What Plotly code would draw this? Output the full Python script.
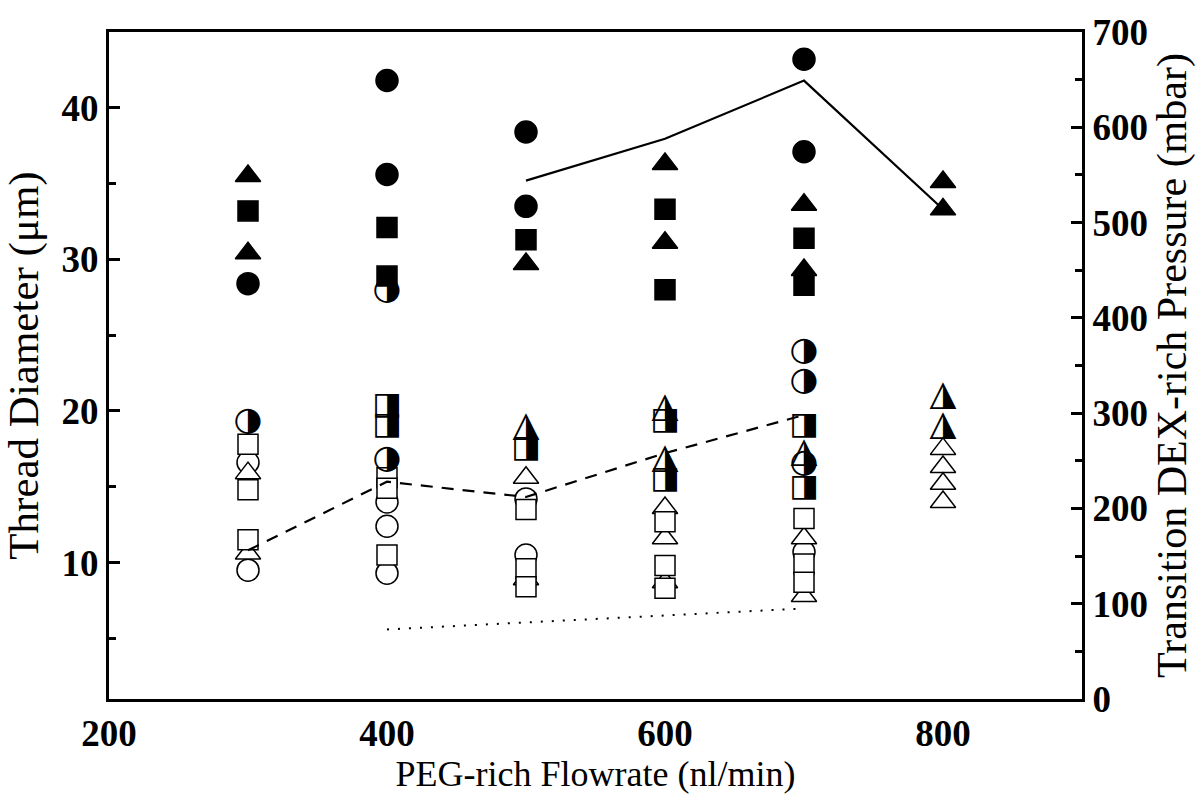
import plotly.graph_objects as go

# ---------------- data ----------------
flow_fc = [300, 400, 400, 500, 500, 700, 700]
dia_fc = [28.4, 41.8, 35.6, 38.4, 33.5, 43.2, 37.1]

flow_fs = [300, 400, 400, 500, 600, 600, 700, 700]
dia_fs = [33.2, 32.1, 28.9, 31.3, 33.3, 28.0, 31.4, 28.3]

flow_ft = [300, 300, 500, 600, 600, 700, 700, 800, 800]
dia_ft = [35.5, 30.4, 29.7, 36.3, 31.1, 33.6, 29.3, 35.1, 33.3]

flow_hc = [300, 400, 400, 700, 700, 700]
dia_hc = [19.3, 27.9, 16.8, 23.9, 21.9, 16.5]

flow_hs = [400, 400, 500, 600, 600, 700, 700]
dia_hs = [20.3, 19.0, 17.5, 19.3, 15.4, 19.0, 14.9]

flow_ht = [500, 600, 600, 700, 800, 800]
dia_ht = [18.9, 20.2, 16.8, 17.2, 21.0, 19.0]

flow_oc = [300, 300, 400, 400, 400, 500, 500, 700]
dia_oc = [16.6, 9.5, 14.0, 12.4, 9.3, 14.2, 10.5, 10.7]

flow_os = [300, 300, 300, 400, 400, 400, 500, 500, 500, 600, 600, 600, 700, 700, 700]
dia_os = [17.8, 14.8, 11.5, 15.6, 14.9, 10.5, 13.5, 9.6, 8.4, 12.7, 9.8, 8.3, 12.9, 9.9, 8.7]

flow_ot = [300, 300, 500, 500, 600, 600, 600, 700, 700, 800, 800, 800, 800]
dia_ot = [15.9, 10.6, 15.6, 8.9, 13.6, 11.6, 8.7, 11.6, 7.8, 17.5, 16.3, 15.2, 14.0]

# pressure lines (right axis, mbar)
flow_solid = [500, 600, 700, 800]
pres_solid = [544, 588, 649, 514]
flow_dash = [300, 400, 500, 600, 700]
pres_dash = [156, 228, 212, 258, 298]
flow_dot = [400, 700]
pres_dot = [73, 95]

x_ticks = [200, 400, 600, 800]
y_ticks = [10, 20, 30, 40]
y2_ticks = [0, 100, 200, 300, 400, 500, 600, 700]

# ---------------- figure ----------------
fig = go.Figure()
BLACK = "black"
WHITE = "white"

def mk(x, y, symbol, fill, size):
    fig.add_trace(go.Scatter(
        x=x, y=y, mode="markers", showlegend=False,
        marker=dict(symbol=symbol, size=size, color=fill,
                    line=dict(color=BLACK, width=1.5))))

# lines on right axis
fig.add_trace(go.Scatter(x=flow_solid, y=pres_solid, yaxis="y2", mode="lines",
                         line=dict(color=BLACK, width=2.2), showlegend=False))
fig.add_trace(go.Scatter(x=flow_dash, y=pres_dash, yaxis="y2", mode="lines",
                         line=dict(color=BLACK, width=2.2, dash="12px,9px"), showlegend=False))
fig.add_trace(go.Scatter(x=flow_dot, y=pres_dot, yaxis="y2", mode="lines",
                         line=dict(color=BLACK, width=2, dash="2px,9px"), showlegend=False))

# open markers
mk(flow_oc, dia_oc, "circle", WHITE, 22)
mk(flow_ot, dia_ot, "triangle-up", WHITE, 22)
mk(flow_os, dia_os, "square", WHITE, 20)

# half-filled markers as glyphs
def half(x, y, glyph, size):
    fig.add_trace(go.Scatter(
        x=x, y=y, mode="text", text=[glyph] * len(x), showlegend=False,
        textposition="middle center",
        textfont=dict(family="DejaVu Sans", size=size, color=BLACK)))

half(flow_hc, dia_hc, "\u25D1", 33)
half(flow_hs, dia_hs, "\u25E8", 31)
half(flow_ht, dia_ht, "\u25EE", 35)

# filled markers
mk(flow_fc, dia_fc, "circle", BLACK, 22)
mk(flow_fs, dia_fs, "square", BLACK, 20)
mk(flow_ft, dia_ft, "triangle-up", BLACK, 22)

tickfont = dict(family="Liberation Serif", size=37, color=BLACK, weight="bold")
titlefont = dict(family="Liberation Serif", size=36, color=BLACK)

fig.update_layout(
    width=1203, height=798,
    margin=dict(l=109, r=121, t=28, b=95),
    paper_bgcolor="white", plot_bgcolor="white",
    xaxis=dict(range=[200, 900], tickvals=x_ticks, ticktext=[str(v) for v in x_ticks],
               showline=True, linecolor=BLACK, linewidth=3, mirror=True,
               ticks="", showgrid=False, zeroline=False,
               tickfont=tickfont,
               title=dict(text="PEG-rich Flowrate (nl/min)", font=titlefont, standoff=6)),
    yaxis=dict(range=[1, 45], tickvals=y_ticks, ticktext=[str(v) for v in y_ticks],
               showline=True, linecolor=BLACK, linewidth=3,
               ticks="inside", ticklen=11, tickwidth=3, tickcolor=BLACK,
               minor=dict(tickvals=[5, 15, 25, 35], ticks="inside", ticklen=7,
                          tickwidth=3, tickcolor=BLACK),
               showgrid=False, zeroline=False, tickfont=tickfont,
               ticklabelstandoff=0,
               title=dict(text="Thread Diameter (\u03bcm)", font=dict(family="Liberation Serif", size=43, color=BLACK), standoff=12)),
    yaxis2=dict(range=[0, 700], overlaying="y", side="right",
                tickvals=y2_ticks, ticktext=[str(v) for v in y2_ticks],
                showline=True, linecolor=BLACK, linewidth=3,
                ticks="inside", ticklen=11, tickwidth=3, tickcolor=BLACK,
                minor=dict(tickvals=[50, 150, 250, 350, 450, 550, 650], ticks="inside",
                           ticklen=7, tickwidth=3, tickcolor=BLACK),
                showgrid=False, zeroline=False, tickfont=tickfont,
                ticklabelstandoff=0,
                title=dict(text="Transition DEX-rich Pressure (mbar)", font=dict(family="Liberation Serif", size=42, color=BLACK), standoff=10)),
)

fig.write_html("out.html")
